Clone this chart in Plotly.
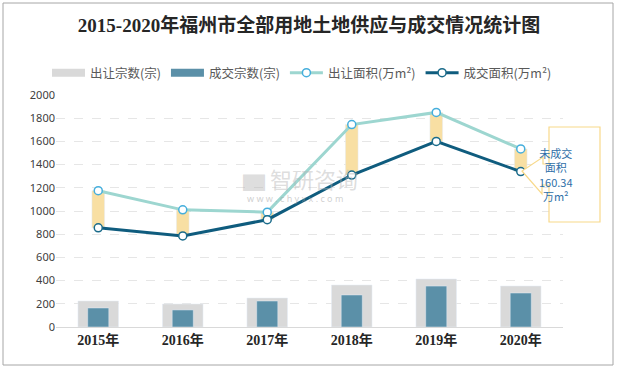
import plotly.graph_objects as go

years = ["2015年", "2016年", "2017年", "2018年", "2019年", "2020年"]
supply_count = [224, 198, 250, 362, 414, 353]
deal_count = [164, 147, 224, 276, 353, 293]
supply_area = [1175, 1010, 990, 1745, 1850, 1535]
deal_area = [855, 785, 925, 1310, 1600, 1340]
gap = [s - d for s, d in zip(supply_area, deal_area)]
y_ticks = [0, 200, 400, 600, 800, 1000, 1200, 1400, 1600, 1800, 2000]
callout_text = "未成交<br>面积<br>160.34<br>万m²"

L, R, T, B = 56, 55, 95, 42
W, H = 618, 369
pw, ph = W - L - R, H - T - B

GRAY = "#d9d9d9"
BLUE = "#5b90a8"


def px(x):
    return (x - L) / pw


def py(y):
    return (H - B - y) / ph


fig = go.Figure()
fig.add_trace(go.Bar(x=years, y=supply_count, name="出让宗数(宗)", marker_color=GRAY,
                     width=0.48, showlegend=False))
fig.add_trace(go.Bar(x=years, y=deal_count, name="成交宗数(宗)", marker_color=BLUE,
                     width=0.25, showlegend=False))
fig.add_trace(go.Bar(x=years, y=gap, base=deal_area, marker_color="#f8dfa3", width=0.15,
                     showlegend=False))
# legend proxies for the bar series (wide swatches)
fig.add_trace(go.Scatter(x=[None], y=[None], name="出让宗数(宗)", mode="lines",
                         line=dict(color=GRAY, width=8), legendrank=1))
fig.add_trace(go.Scatter(x=[None], y=[None], name="成交宗数(宗)", mode="lines",
                         line=dict(color=BLUE, width=8), legendrank=2))
fig.add_trace(go.Scatter(x=years, y=supply_area, name="出让面积(万m²)", mode="lines+markers",
                         line=dict(color="#9dd6d0", width=3), legendrank=3,
                         marker=dict(size=8, color="white", line=dict(color="#45aedc", width=1.5))))
fig.add_trace(go.Scatter(x=years, y=deal_area, name="成交面积(万m²)", mode="lines+markers",
                         line=dict(color="#0f5c7e", width=3), legendrank=4,
                         marker=dict(size=8, color="white", line=dict(color="#1a6b8a", width=1.5))))

shapes = [
    dict(type="rect", xref="paper", yref="paper", x0=px(3), x1=px(613), y0=py(365), y1=py(3),
         line=dict(color="#a6a6a6", width=1), layer="below"),
    dict(type="path", xref="paper", yref="paper",
         path=(f"M {px(549)} {py(127)} L {px(600)} {py(127)} L {px(600)} {py(222)} "
               f"L {px(549)} {py(222)} L {px(549)} {py(185)} L {px(542)} {py(185)} "
               f"L {px(542)} {py(194)} L {px(522)} {py(171)} L {px(543)} {py(157)} "
               f"L {px(543)} {py(164)} L {px(549)} {py(164)} Z"),
         fillcolor="white", line=dict(color="#f8d98a", width=1.2)),
]

annotations = [
    dict(xref="paper", yref="paper", x=px(575), y=py(174), text=callout_text, showarrow=False,
         font=dict(family="Noto Sans CJK SC", size=11, color="#2f6fa8"), align="center"),
    dict(xref="paper", yref="paper", x=px(300), y=py(178), text="▆ 智研咨询", showarrow=False,
         font=dict(family="Noto Sans CJK SC", size=22, color="rgba(180,180,180,0.45)")),
    dict(xref="paper", yref="paper", x=px(295), y=py(198), text="w w w . c h y x x . c o m",
         showarrow=False, font=dict(family="Noto Sans", size=9, color="rgba(160,160,160,0.5)")),
]

fig.update_layout(
    width=W, height=H,
    margin=dict(l=L, r=R, t=T, b=B),
    paper_bgcolor="white", plot_bgcolor="white",
    barmode="overlay",
    title=dict(text="2015-2020年福州市全部用地土地供应与成交情况统计图", x=0.5, xanchor="center",
               y=1 - 25 / H, yanchor="middle",
               font=dict(family="Liberation Serif, Noto Sans CJK SC", size=19, color="#262626",
                         weight="bold")),
    legend=dict(orientation="h", x=px(47), xanchor="left", y=py(73), yanchor="middle",
                font=dict(family="Noto Sans CJK SC", size=12.5, color="#595959"),
                itemwidth=33, tracegroupgap=0, bgcolor="rgba(0,0,0,0)"),
    xaxis=dict(showline=True, linecolor="#d9d9d9", linewidth=1, ticks="",
               tickfont=dict(family="Liberation Serif, Noto Sans CJK SC", size=14, color="#262626",
                             weight="bold")),
    yaxis=dict(range=[0, 2000], tickvals=y_ticks, showgrid=True, gridcolor="#e6e6e6",
               griddash="dash", zeroline=False, ticks="",
               tickfont=dict(family="Noto Sans", size=11, color="#404040")),
    shapes=shapes, annotations=annotations,
    showlegend=True,
)

fig.write_html("out.html", config={"displayModeBar": False},
               post_script="document.body.style.margin='0';document.body.style.overflow='hidden';")
